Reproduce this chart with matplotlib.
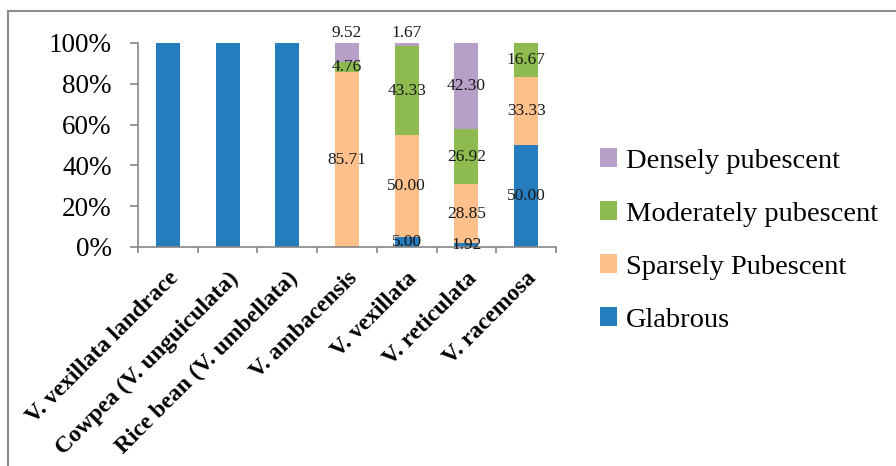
import matplotlib
matplotlib.use("Agg")
import matplotlib.pyplot as plt
from matplotlib.lines import Line2D
import numpy as np

categories = ["V. vexillata landrace", "Cowpea (V. unguiculata)", "Rice bean (V. umbellata)",
              "V. ambacensis", "V. vexillata", "V. reticulata", "V. racemosa"]
glabrous = [100, 100, 100, 0, 5.00, 1.92, 50.00]
sparsely = [0, 0, 0, 85.71, 50.00, 28.85, 33.33]
moderately = [0, 0, 0, 4.76, 43.33, 26.92, 16.67]
densely = [0, 0, 0, 9.52, 1.67, 42.30, 0]

series_names = ["Glabrous", "Sparsely Pubescent", "Moderately pubescent", "Densely pubescent"]
series_vals = [glabrous, sparsely, moderately, densely]
colors = ["#267DBE", "#FFC08C", "#8DBB4F", "#B6A0C8"]

plt.rcParams['font.family'] = ['Liberation Serif', 'DejaVu Serif']

fig = plt.figure(figsize=(8.96, 4.66), dpi=100)
ax = fig.add_axes([138/896, 1-247/466, (556-138)/896, (247-43)/466])

x = np.arange(len(categories))
bottom = np.zeros(len(categories))
bars = []
for name, vals, c in zip(series_names, series_vals, colors):
    vals = np.array(vals, dtype=float)
    b = ax.bar(x, vals, width=0.4, bottom=bottom, color=c, label=name, edgecolor='none')
    bars.append(b)
    bottom = bottom + vals

# data labels
allv = np.array(series_vals, dtype=float)
for i in range(len(categories)):
    cum = 0.0
    nz = [k for k in range(len(series_vals)) if allv[k, i] > 0]
    for k in range(len(series_vals)):
        v = allv[k, i]
        if v > 0 and v < 100:
            if k == nz[-1] and v < 10:
                ax.annotate(f"{v:.2f}", xy=(x[i], cum + v), xytext=(0, 7), textcoords='offset points',
                            ha='center', va='center', fontsize=12.5, color='#1a1a1a')
            else:
                ax.text(x[i], cum + v/2, f"{v:.2f}", ha='center', va='center', fontsize=12.5, color='#1a1a1a')
        cum += v

ax.set_xlim(-0.5, len(categories) - 0.5)
ax.set_ylim(0, 100)
ax.set_yticks(np.arange(0, 101, 20))
ax.set_yticklabels([f"{t}%" for t in range(0, 101, 20)], fontsize=19.5)
ax.set_xticks(x)
ax.set_xticklabels(categories, rotation=45, ha='right', rotation_mode='anchor',
                   fontsize=17, fontweight='bold')
ax.set_xticks(np.arange(-0.5, len(categories), 1), minor=True)
ax.tick_params(axis='x', which='major', length=0, pad=15)
ax.tick_params(axis='x', which='minor', length=4, direction='out', color='#868686', width=1.2)
ax.tick_params(axis='y', length=6, direction='out', color='#868686', width=1.2, pad=13)
for s in ['top', 'right']:
    ax.spines[s].set_visible(False)
for s in ['left', 'bottom']:
    ax.spines[s].set_color('#868686')
    ax.spines[s].set_linewidth(1.2)

handles = bars[::-1]
labels = series_names[::-1]
fig.legend(handles, labels, loc='center left', bbox_to_anchor=(600/896, 1-240.5/466),
           frameon=False, fontsize=20.5, handlelength=0.6, handleheight=0.6,
           handletextpad=0.3, labelspacing=0.98, borderpad=0, borderaxespad=0)

# figure border (top and left)
y_top = 1 - 11/466
x_left = 8/896
fig.add_artist(Line2D([x_left, 1], [y_top, y_top], transform=fig.transFigure, color='#8c8c8c', lw=1.5))
fig.add_artist(Line2D([x_left, x_left], [0, y_top], transform=fig.transFigure, color='#8c8c8c', lw=1.5))

fig.savefig("out.png", dpi=100)
